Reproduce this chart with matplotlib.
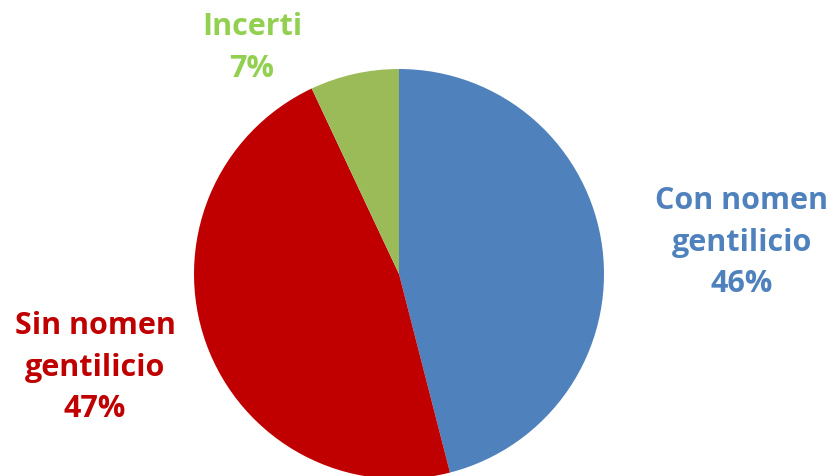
import matplotlib.pyplot as plt

labels = ['Con nomen\ngentilicio', 'Sin nomen\ngentilicio', 'Incerti']
values = [46, 47, 7]
slice_colors = ['#4F81BD', '#C00000', '#9BBB59']
text_colors = ['#4F81BD', '#C00000', '#92D050']
# label centres in pixel coordinates (from top-left)
label_pos = [(742, 243), (95, 368), (252, 48)]

W, H = 835, 477
fig = plt.figure(figsize=(W / 100, H / 100), dpi=100)
ax = fig.add_axes([0, 0, 1, 1])

ax.pie(values, colors=slice_colors, startangle=90, counterclock=False,
       center=(399, H - 275), radius=205, frame=True)
ax.set_xlim(0, W)
ax.set_ylim(0, H)
ax.set_aspect('equal')
ax.axis('off')

for lab, v, c, (px, py) in zip(labels, values, text_colors, label_pos):
    ax.text(px, H - py, f'{lab}\n{v}%', color=c, ha='center', va='center',
            fontsize=22, fontweight='bold', family='Open Sans', linespacing=1.5)

plt.savefig('out.png', dpi=100)
